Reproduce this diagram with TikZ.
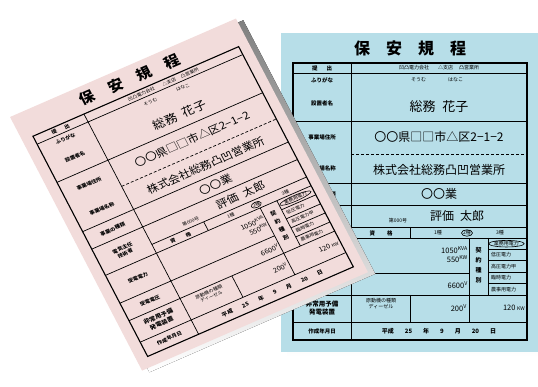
\documentclass[tikz,border=0pt]{standalone}
\usepackage{fontspec}
\setmainfont{Noto Sans CJK JP}
\usetikzlibrary{shapes.geometric}
\definecolor{bluepaper}{RGB}{183,222,232}
\definecolor{pinkpaper}{RGB}{242,220,219}
\definecolor{shade}{RGB}{125,125,125}

\begin{document}
\begin{tikzpicture}[x=1pt,y=-1pt,
  every node/.style={inner sep=0pt,transform shape},
  lbl/.style={font=\fontsize{5.5}{6.5}\selectfont\bfseries,align=center},
  sml/.style={font=\fontsize{5}{6}\selectfont},
  mid/.style={font=\fontsize{7.5}{8}\selectfont},
  big/.style={font=\fontsize{12}{12}\selectfont},
  rule/.style={line width=0.7pt},
  hoan/.pic={
    \fill[shade] (6,5) rectangle (263,324);
    \path[papercol] (0,0) rectangle (257,319);
    \node[font=\fontsize{16}{16}\selectfont\bfseries] (-title) at (129,15) {保\hspace{16pt}安\hspace{16pt}規\hspace{16pt}程};
    \draw[line width=1.1pt] (12,30) rectangle (246,307);
    \draw[rule] (12,40) -- (246,40) (12,88) -- (246,88) (12,150) -- (246,150) (12,172) -- (246,172)
      (70,194) -- (246,194) (12,205) -- (246,205) (12,240) -- (188,240) (12,262) -- (246,262)
      (12,289) -- (246,289) (70,30) -- (70,307) (129,194) -- (129,205) (129,262) -- (129,289)
      (188,205) -- (188,289) (207,205) -- (207,262);
    \draw[rule,densely dashed] (70,121) -- (246,121);
    \foreach \k in {1,...,4} \draw[rule] (207,205+11.4*\k) -- (246,205+11.4*\k);
    % left column
    \node[lbl] (-l1) at (41,35) {提\hspace{9pt}出};
    \node[lbl] (-l2) at (41,47) {ふりがな};
    \node[lbl] (-l3) at (41,70) {設置者名};
    \node[lbl] (-l4) at (41,104) {事業場住所};
    \node[lbl] (-l5) at (41,135) {事業場名称};
    \node[lbl] (-l6) at (41,161) {事業の種類};
    \node[lbl] (-l7) at (41,188) {電気主任\\技術者};
    \node[lbl] (-l8) at (41,222) {受電電力};
    \node[lbl] (-l9) at (41,251) {受電電圧};
    \node[lbl,font=\fontsize{6.5}{8}\selectfont\bfseries] (-l10) at (41,275) {非常用予備\\発電装置};
    \node[lbl] (-l11) at (41,298) {作成年月日};
    % entries
    \node[sml] (-co) at (158,35) {凹凸電力会社\hspace{9pt}△支店\hspace{6pt}凸営業所};
    \node[sml] (-kana) at (156,47) {そうむ\hspace{22pt}はなこ};
    \node[font=\fontsize{13}{13}\selectfont] (-name) at (158,74) {総務\hspace{7pt}花子};
    \node[big] (-addr) at (158,104) {〇〇県□□市△区2−1−2};
    \node[big] (-firm) at (158,137) {株式会社総務凸凹営業所};
    \node[big] (-biz) at (158,161) {〇〇業};
    \node[sml] (-no) at (117,188) {第000号};
    \node[big] (-mgr) at (176,183) {評価\hspace{6pt}太郎};
    \node[lbl] (-qual) at (100,200) {資\hspace{12pt}格};
    \node[sml] (-g1) at (157,200) {1種};
    \node[sml,draw,ellipse,line width=0.6pt] (-g2) at (186,200) {2種};
    \node[sml] (-g3) at (219,200) {3種};
    \node[mid,anchor=east] (-kva) at (187,217) {1050\textsuperscript{KVA}};
    \node[mid,anchor=east] (-kw) at (187,226) {550\textsuperscript{KW}};
    \node[mid,anchor=east] (-volt) at (187,252) {6600\textsuperscript{V}};
    \node[lbl,font=\fontsize{6}{10}\selectfont\bfseries] (-kind) at (197.5,232) {契\\約\\種\\別};
    \node[sml,anchor=west,draw,ellipse,line width=0.6pt] (-k1) at (207.5,210.7) {業務用電力};
    \foreach \t [count=\k from 2] in {低圧電力,高圧電力甲,臨時電力,農事用電力}
      \node[sml,anchor=west] (-k\k) at (210,205+11.4*\k-5.7) {\t};
    \node[sml,align=center] (-eng) at (100,271) {原動機の種類\\ディーゼル};
    \node[mid,anchor=east] (-gv) at (186,275) {200\textsuperscript{V}};
    \node[mid,anchor=east] (-gw) at (244,275) {120 {\fontsize{5}{6}\selectfont KW}};
    \node[lbl,font=\fontsize{6}{7}\selectfont\bfseries] (-date) at (158,298) {平成\hspace{11pt}25\hspace{11pt}年\hspace{11pt}9\hspace{11pt}月\hspace{11pt}20\hspace{11pt}日};
  }]
\useasboundingbox (0,0) rectangle (538,387);
\pic[papercol/.style={fill=bluepaper}] (blue) at (281,33) {hoan};
\pic[papercol/.style={fill=pinkpaper},cm={0.879,0.383,-0.414,0.795,(10,117)}] (pink) at (0,0) {hoan};
\end{tikzpicture}
\end{document}
